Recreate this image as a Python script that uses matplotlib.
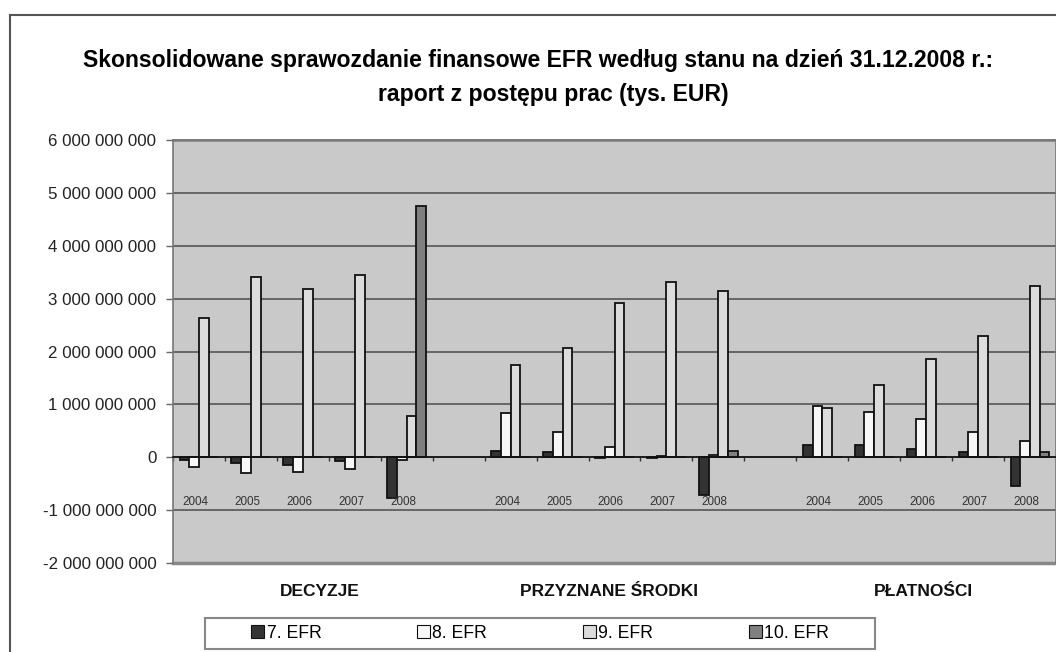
import numpy as np
import matplotlib
matplotlib.use('Agg')
import matplotlib.pyplot as plt
from matplotlib.ticker import FuncFormatter, FixedLocator
from matplotlib.patches import Rectangle, Patch
from matplotlib.lines import Line2D
import matplotlib.transforms as mtransforms

plt.rcParams['font.family'] = ['Liberation Sans', 'DejaVu Sans']

# data (values in EUR)
years = ['2004', '2005', '2006', '2007', '2008']
groups = ['DECYZJE', 'PRZYZNANE ŚRODKI', 'PŁATNOŚCI']
series = ['7. EFR', '8. EFR', '9. EFR', '10. EFR']

efr7 = [-0.06e9, -0.10e9, -0.15e9, -0.07e9, -0.78e9,
        0.12e9, 0.10e9, -0.01e9, -0.01e9, -0.72e9,
        0.23e9, 0.23e9, 0.16e9, 0.09e9, -0.54e9]
efr8 = [-0.19e9, -0.30e9, -0.28e9, -0.23e9, -0.05e9,
        0.84e9, 0.47e9, 0.20e9, 0.03e9, 0.05e9,
        0.97e9, 0.85e9, 0.73e9, 0.47e9, 0.31e9]
efr9 = [2.63e9, 3.41e9, 3.18e9, 3.45e9, 0.78e9,
        1.74e9, 2.06e9, 2.91e9, 3.31e9, 3.15e9,
        0.93e9, 1.36e9, 1.86e9, 2.29e9, 3.24e9]
efr10 = [0, 0, 0, 0, 4.75e9,
         0, 0, 0, 0, 0.12e9,
         0, 0, 0, 0, 0.09e9]

colors = ['#333333', '#f7f7f7', '#dcdcdc', '#808080']

W, H = 1056, 652
fig = plt.figure(figsize=(W / 100, H / 100), dpi=100)

def px(x0, y0, x1, y1):
    # pixel box (top-left origin) -> figure fraction rect
    return [x0 / W, 1 - y1 / H, (x1 - x0) / W, (y1 - y0) / H]

ax = fig.add_axes(px(173, 140, 1056, 563))
ax.set_facecolor('#c9c9c9')

# category positions: 5 years per group, one empty slot between groups
n_years = len(years)
pos = []
for g in range(len(groups)):
    for i in range(n_years):
        pos.append(g * (n_years + 1) + i)
pos = np.array(pos, dtype=float)
n_cat = len(groups) * (n_years + 1) - 1

bw = 0.187
for k, vals in enumerate([efr7, efr8, efr9, efr10]):
    ax.bar(pos + (k - 1.5) * bw, vals, width=bw, color=colors[k],
           edgecolor='#111111', linewidth=1.3, zorder=3)

ax.set_xlim(-0.5, n_cat - 0.5)
ax.set_ylim(-2e9, 6e9)
ax.set_yticks(np.arange(-2e9, 6.1e9, 1e9))
ax.yaxis.set_major_formatter(FuncFormatter(lambda v, p: f"{int(round(v)):,}".replace(',', ' ')))
ax.grid(axis='y', color='#555555', linewidth=1.2, zorder=1)
ax.tick_params(axis='y', direction='out', length=5, width=1, color='#666666',
               labelsize=12.2, labelcolor='#222222', pad=7)

# category axis sits at zero
ax.spines['bottom'].set_position(('data', 0))
ax.spines['bottom'].set_color('#111111')
ax.spines['bottom'].set_linewidth(1.2)
ax.spines['bottom'].set_zorder(4)
ax.xaxis.set_major_locator(FixedLocator(np.arange(-0.5, n_cat, 1.0)))
ax.tick_params(axis='x', direction='out', length=3, width=1, color='#333333',
               labelbottom=False)
for s in ['left', 'top', 'right']:
    ax.spines[s].set_color('#777777')
    ax.spines[s].set_linewidth(1.2)
ax.axhline(-2e9, color='#888888', linewidth=2.5, clip_on=False, zorder=2)
ax.axhline(6e9, color='#888888', linewidth=2.0, clip_on=False, zorder=2)

# year labels inside the plot, group labels below
for p, lbl in zip(pos, years * len(groups)):
    ax.text(p - 0.07, -0.85e9, lbl, ha='center', va='center', fontsize=8.4,
            color='#333333', zorder=5)
trans = mtransforms.blended_transform_factory(ax.transData, ax.transAxes)
group_x = [2.33, 7.9, 13.94]
for gx, g in zip(group_x, groups):
    ax.text(gx, -0.068, g, transform=trans, ha='center', va='center',
            fontsize=12.5, fontweight='bold', color='#111111')

# title
fig.text(538 / W, 1 - 60 / H,
         'Skonsolidowane sprawozdanie finansowe EFR według stanu na dzień 31.12.2008 r.:',
         ha='center', va='center', fontsize=16.6, fontweight='bold')
fig.text(553 / W, 1 - 95 / H, 'raport z postępu prac (tys. EUR)',
         ha='center', va='center', fontsize=16.6, fontweight='bold')

# legend
fig.patches.append(Rectangle((205 / W, 1 - 649 / H), 670 / W, 31 / H,
                             transform=fig.transFigure, facecolor='white',
                             edgecolor='#888888', linewidth=1.5))
handles = [Patch(facecolor=c, edgecolor='#111111', linewidth=0.8) for c in colors]
fig.legend(handles, series, loc='center', bbox_to_anchor=(540 / W, 1 - 633 / H),
           ncol=4, frameon=False, fontsize=12.7, handlelength=0.75,
           handleheight=0.75, handletextpad=0.15, columnspacing=5.4)

# outer chart border (cut off at right and bottom)
fig.add_artist(Line2D([10 / W, 1], [1 - 15 / H, 1 - 15 / H], transform=fig.transFigure,
                      color='#555555', linewidth=1.5))
fig.add_artist(Line2D([10 / W, 10 / W], [0, 1 - 15 / H], transform=fig.transFigure,
                      color='#555555', linewidth=1.5))

fig.savefig('out.png', dpi=100, facecolor='white')
